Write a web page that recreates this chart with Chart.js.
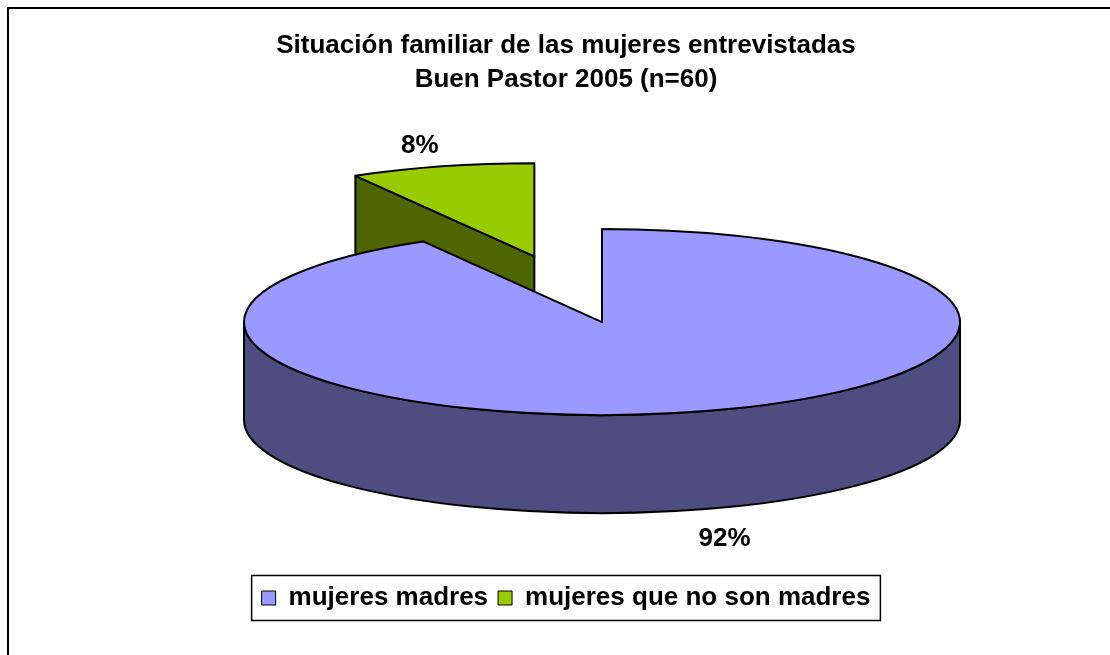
<!DOCTYPE html>
<html lang="es">
<head>
    <meta charset="UTF-8">
    <title>Situación familiar de las mujeres entrevistadas</title>
    <script src="https://cdn.jsdelivr.net/npm/chart.js"></script>
    <style>
        body { margin: 0; background: #fff; }
        canvas { display: block; }
    </style>
</head>
<body>
    <canvas id="pieCanvas" width="1110" height="655"></canvas>
    <script>
        // Datos (n = 60)
        const categorias = ['mujeres madres', 'mujeres que no son madres'];
        const cantidades = [55, 5];
        const titulo = ['Situación familiar de las mujeres entrevistadas', 'Buen Pastor 2005 (n=60)'];

        const coloresCara = ['#9999FF', '#99CC00'];
        const coloresLado = ['#4D4D80', '#4D6600'];

        Chart.defaults.font.family = '"Liberation Sans", Arial, sans-serif';
        Chart.defaults.color = '#000';

        // geometría 3D de cada porción, a partir de los arcos del propio Chart.js
        function porciones(chart, meta, opts) {
            const k = opts.tilt;
            return meta.data.map((arc, i) => {
                const mid = (arc.startAngle + arc.endAngle) / 2;
                const d = (opts.explode[i] || 0) * arc.outerRadius;
                return {
                    arc, i,
                    a0: arc.startAngle, a1: arc.endAngle, mid,
                    r: arc.outerRadius, ry: arc.outerRadius * k,
                    cx: arc.x + opts.shiftX + Math.cos(mid) * d,
                    cy: arc.y + opts.shiftY + Math.sin(mid) * d * k
                };
            });
        }

        const pie3d = {
            id: 'pie3d',
            beforeDraw(chart) {
                const ctx = chart.ctx;
                ctx.save();
                ctx.fillStyle = '#fff';
                ctx.fillRect(0, 0, chart.width, chart.height);
                // marco del gráfico
                ctx.strokeStyle = '#000';
                ctx.lineWidth = 2;
                ctx.beginPath();
                ctx.moveTo(8, chart.height);
                ctx.lineTo(8, 8);
                ctx.lineTo(chart.width, 8);
                ctx.stroke();
                ctx.restore();
            },
            beforeDatasetDraw(chart, args, opts) {
                const ctx = chart.ctx;
                const depth = opts.depth;
                const items = porciones(chart, args.meta, opts).sort((a, b) => a.cy - b.cy);
                items.forEach(p => {
                    const lado = coloresLado[p.i];
                    ctx.save();
                    ctx.lineWidth = opts.lineWidth;
                    ctx.strokeStyle = '#000';
                    ctx.lineJoin = 'round';
                    ctx.fillStyle = lado;

                    // caras de corte visibles
                    [[p.a0, Math.cos(p.a0) < 0], [p.a1, Math.cos(p.a1) > 0]].forEach(([a, visible]) => {
                        if (!visible) return;
                        const ex = p.cx + p.r * Math.cos(a);
                        const ey = p.cy + p.ry * Math.sin(a);
                        ctx.beginPath();
                        ctx.moveTo(p.cx, p.cy);
                        ctx.lineTo(ex, ey);
                        ctx.lineTo(ex, ey + depth);
                        ctx.lineTo(p.cx, p.cy + depth);
                        ctx.closePath();
                        ctx.fill();
                        ctx.stroke();
                    });

                    // lateral exterior (parte delantera)
                    const s = Math.max(p.a0, 0);
                    const e = Math.min(p.a1, Math.PI);
                    if (s < e) {
                        ctx.beginPath();
                        ctx.ellipse(p.cx, p.cy, p.r, p.ry, 0, s, e);
                        ctx.lineTo(p.cx + p.r * Math.cos(e), p.cy + p.ry * Math.sin(e) + depth);
                        ctx.ellipse(p.cx, p.cy + depth, p.r, p.ry, 0, e, s, true);
                        ctx.closePath();
                        ctx.fill();
                        ctx.stroke();
                    }

                    // cara superior: la dibuja el arco de Chart.js, aplastado
                    ctx.save();
                    ctx.translate(p.cx, p.cy);
                    ctx.scale(1, opts.tilt);
                    ctx.translate(-p.arc.x, -p.arc.y);
                    p.arc.draw(ctx);
                    ctx.restore();

                    ctx.beginPath();
                    ctx.moveTo(p.cx, p.cy);
                    ctx.ellipse(p.cx, p.cy, p.r, p.ry, 0, p.a0, p.a1);
                    ctx.closePath();
                    ctx.stroke();
                    ctx.restore();
                });
                return false;
            },
            afterDatasetsDraw(chart, args, opts) {
                const ctx = chart.ctx;
                const meta = chart.getDatasetMeta(0);
                const total = cantidades.reduce((a, b) => a + b, 0);
                ctx.save();
                ctx.font = 'bold 26px "Liberation Sans", Arial, sans-serif';
                ctx.fillStyle = '#000';
                ctx.textAlign = 'center';
                ctx.textBaseline = 'middle';
                porciones(chart, meta, opts).forEach(p => {
                    const f = opts.labelRadius;
                    const x = p.cx + p.r * f * Math.cos(p.mid) + 4;
                    const y = p.cy + p.ry * f * Math.sin(p.mid) + (Math.sin(p.mid) > 0 ? opts.depth : 0) + 4;
                    ctx.fillText(Math.round(cantidades[p.i] / total * 100) + '%', x, y);
                });
                ctx.restore();
            },
            afterDraw(chart) {
                // recuadro de la leyenda
                const boxes = chart.legend.legendHitBoxes;
                if (!boxes || !boxes.length) return;
                const left = Math.min(...boxes.map(b => b.left)) - 10;
                const right = Math.max(...boxes.map(b => b.left + b.width)) + 10;
                const mid = boxes[0].top + boxes[0].height / 2;
                const ctx = chart.ctx;
                ctx.save();
                ctx.strokeStyle = '#000';
                ctx.lineWidth = 1.5;
                ctx.strokeRect(left, mid - 22.5, right - left, 45);
                ctx.restore();
            }
        };

        new Chart(document.getElementById('pieCanvas'), {
            type: 'pie',
            data: {
                labels: categorias,
                datasets: [{
                    data: cantidades,
                    backgroundColor: coloresCara,
                    borderWidth: 0,
                    radius: 358
                }]
            },
            options: {
                responsive: false,
                animation: false,
                events: [],
                devicePixelRatio: 1,
                layout: { padding: { left: 22, right: 0, top: 0, bottom: 34 } },
                plugins: {
                    title: {
                        display: true,
                        text: titulo,
                        color: '#000',
                        font: { size: 26, weight: 'bold', lineHeight: 1.31 },
                        padding: { top: 29, bottom: 10 }
                    },
                    legend: {
                        position: 'bottom',
                        labels: {
                            boxWidth: 14,
                            boxHeight: 14,
                            padding: 10,
                            color: '#000',
                            font: { size: 26, weight: 'bold' },
                            generateLabels: chart => chart.data.labels.map((t, i) => ({
                                text: t,
                                fillStyle: coloresCara[i],
                                strokeStyle: '#000',
                                lineWidth: 1,
                                hidden: false,
                                index: i
                            }))
                        }
                    },
                    tooltip: { enabled: false },
                    pie3d: {
                        tilt: 0.26,
                        depth: 98,
                        explode: [0, 0.73],
                        shiftX: 36,
                        shiftY: -19,
                        lineWidth: 2,
                        labelRadius: 1.28
                    }
                }
            },
            plugins: [pie3d]
        });
    </script>
</body>
</html>
